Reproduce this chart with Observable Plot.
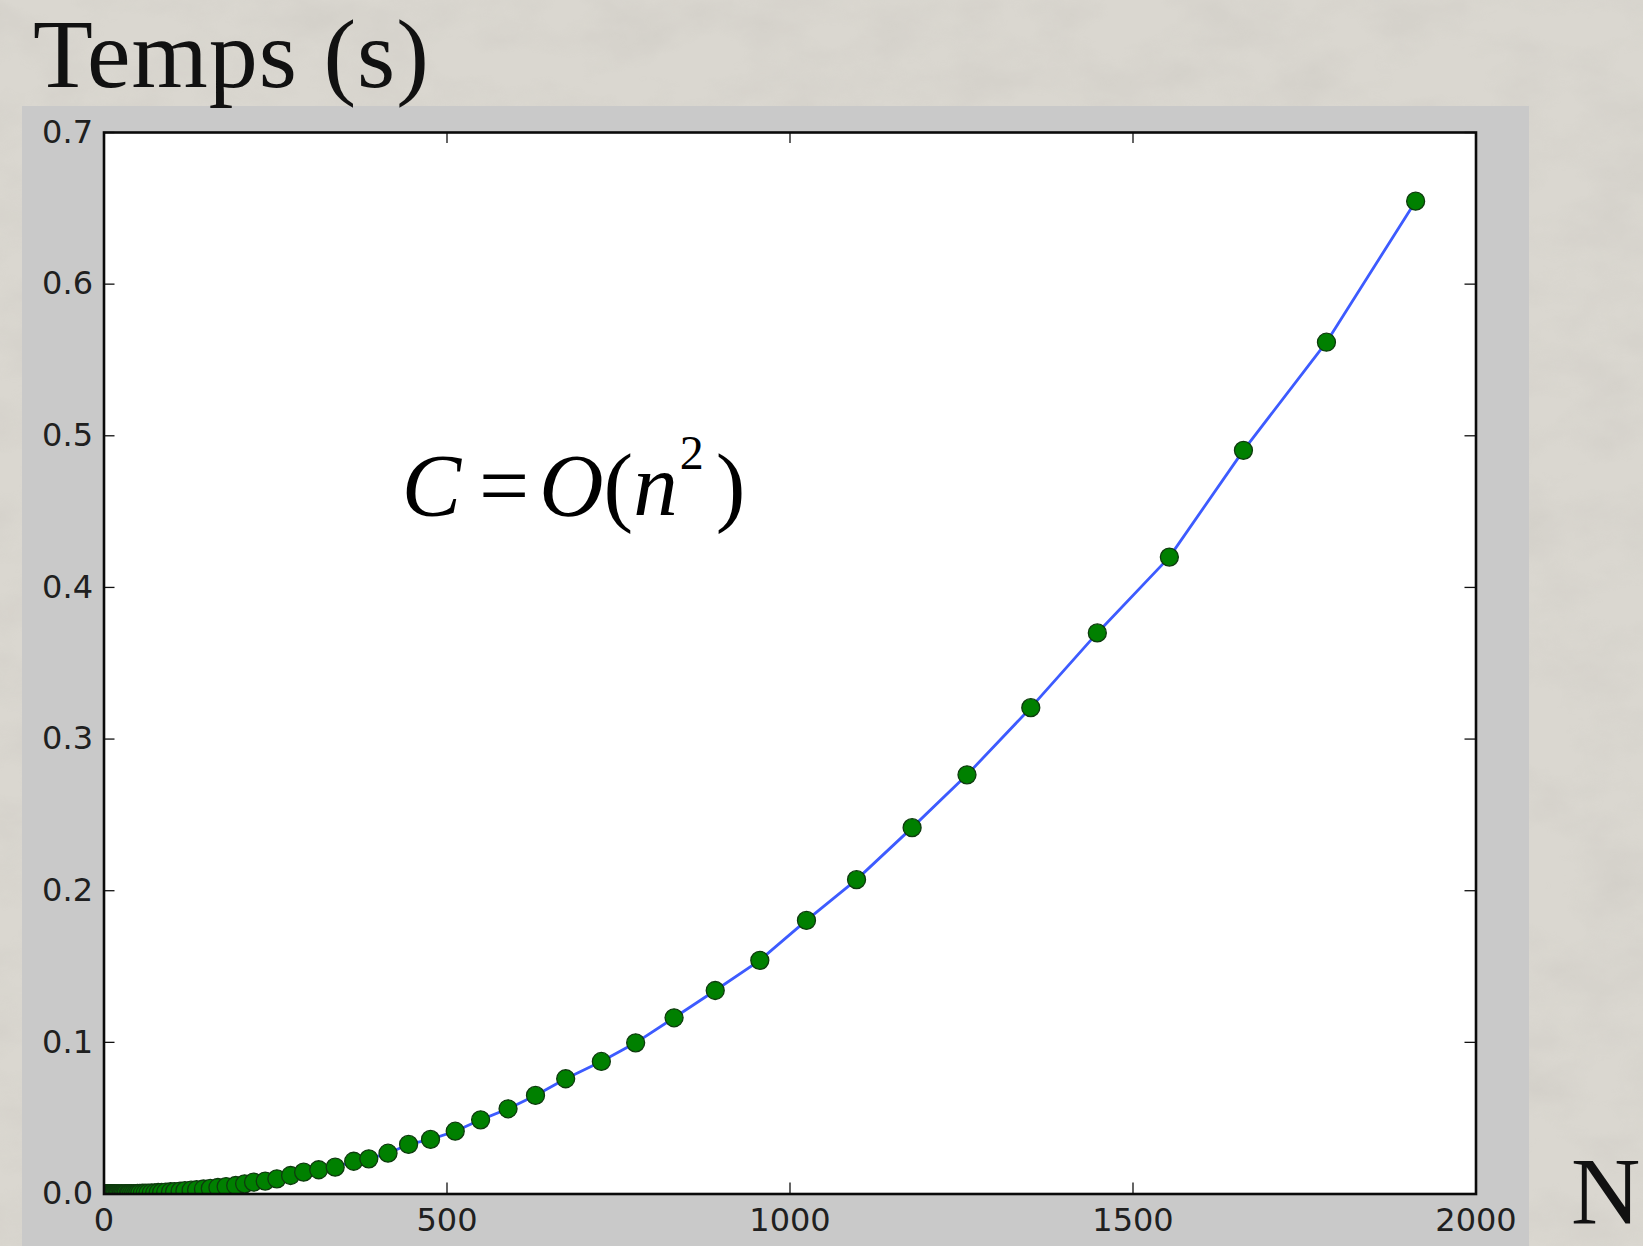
<!DOCTYPE html>
<html>
<head>
<meta charset="utf-8">
<script src="https://cdn.jsdelivr.net/npm/d3@7"></script>
<script src="https://cdn.jsdelivr.net/npm/@observablehq/plot@0.6"></script>
<style>
  html, body { margin: 0; padding: 0; }
  body {
    width: 1643px; height: 1246px; overflow: hidden; position: relative;
    background: #dad7d0;
    font-family: "Liberation Serif", "DejaVu Serif", serif;
  }
  #paper { position: absolute; left: 0; top: 0; }
  #title {
    position: absolute; left: 33px; top: 5px; z-index: 2;
    font-size: 98px; line-height: 98px; letter-spacing: 1px; color: #111; white-space: nowrap;
  }
  #panel {
    position: absolute; left: 22px; top: 106px; width: 1507px; height: 1140px;
    background: #c9c9c9; z-index: 1;
  }
  #nlabel {
    position: absolute; left: 1571px; top: 1138px;
    font-size: 96px; line-height: 107px; color: #111; white-space: nowrap;
  }
</style>
</head>
<body>
<svg id="paper" width="1643" height="1246">
  <filter id="grain" x="0" y="0" width="100%" height="100%">
    <feTurbulence type="fractalNoise" baseFrequency="0.012 0.02" numOctaves="5" seed="7" result="n"/>
    <feColorMatrix type="matrix" values="0 0 0 0 0.45  0 0 0 0 0.43  0 0 0 0 0.40  0 0 0 -0.9 0.55"/>
  </filter>
  <rect width="1643" height="1246" filter="url(#grain)" opacity="0.35"/>
</svg>
<div id="panel"></div>
<div id="title">Temps (s)</div>
<div id="nlabel">N</div>
<script>
// Problem sizes n and measured running times (seconds)
const sizes = [
  1, 2, 3, 4, 5, 6, 7, 8, 9, 10, 11, 12, 13, 14, 15, 16, 17, 19, 20, 21,
  23, 25, 26, 28, 30, 32, 35, 37, 40, 43, 46, 49, 52, 56, 60, 64, 69, 74, 79, 84,
  90, 97, 103, 111, 118, 127, 135, 145, 155, 166, 178, 192, 205, 218, 235, 252, 272, 291, 313, 337,
  364, 386, 414, 444, 476, 512, 549, 589, 629, 673, 725, 775, 831, 891, 956, 1024, 1097, 1178, 1258, 1351,
  1448, 1553, 1661, 1782, 1912
];
const times = [
  0.0000, 0.0000, 0.0000, 0.0000, 0.0000, 0.0000, 0.0000, 0.0000, 0.0000, 0.0000,
  0.0000, 0.0000, 0.0000, 0.0000, 0.0000, 0.0000, 0.0000, 0.0001, 0.0001, 0.0001,
  0.0001, 0.0001, 0.0001, 0.0001, 0.0001, 0.0002, 0.0002, 0.0002, 0.0002, 0.0003,
  0.0003, 0.0004, 0.0004, 0.0005, 0.0006, 0.0006, 0.0007, 0.0008, 0.0010, 0.0011,
  0.0013, 0.0015, 0.0016, 0.0019, 0.0022, 0.0025, 0.0028, 0.0033, 0.0037, 0.0043,
  0.0049, 0.0056, 0.0067, 0.0078, 0.0085, 0.0100, 0.0122, 0.0144, 0.0160, 0.0177,
  0.0216, 0.0232, 0.0269, 0.0327, 0.0360, 0.0414, 0.0489, 0.0562, 0.0650, 0.0760,
  0.0874, 0.0997, 0.1162, 0.1342, 0.1541, 0.1804, 0.2073, 0.2416, 0.2764, 0.3207,
  0.3700, 0.4200, 0.4904, 0.5617, 0.6547
];
const xTicks = [0, 500, 1000, 1500, 2000];
const yTicks = [0, 0.1, 0.2, 0.3, 0.4, 0.5, 0.6, 0.7];
const formula = "C = O(n2)";

const points = sizes.map((n, i) => ({n, t: times[i]}));

const W = 1507, H = 1140;
const mL = 81.5, mR = 53.5, mT = 26, mB = 52.5;
const innerW = W - mL - mR;
const innerH = H - mT - mB;
const tickLen = 11;

const chart = Plot.plot({
  width: W,
  height: H,
  marginLeft: mL,
  marginRight: mR,
  marginTop: mT,
  marginBottom: mB,
  x: {domain: [0, 2000]},
  y: {domain: [0, 0.7]},
  style: {background: "transparent", fontFamily: "DejaVu Sans", fontSize: "32px", color: "#202020", overflow: "visible"},
  marks: [
    Plot.frame({fill: "white"}),
    Plot.axisX({ticks: xTicks, tickSize: 0, tickPadding: 14, fontSize: 32, label: null, fill: "#202020", tickFormat: d3.format("d")}),
    Plot.axisY({ticks: yTicks, tickSize: 0, tickPadding: 11, fontSize: 32, label: null, fill: "#202020", tickFormat: d3.format(".1f")}),
    // inward ticks on all four sides
    Plot.tickX(xTicks, {x: d => d, insetTop: innerH - tickLen, stroke: "#111", strokeWidth: 1.3}),
    Plot.tickX(xTicks, {x: d => d, insetBottom: innerH - tickLen, stroke: "#111", strokeWidth: 1.3}),
    Plot.tickY(yTicks, {y: d => d, insetRight: innerW - tickLen, stroke: "#111", strokeWidth: 1.3}),
    Plot.tickY(yTicks, {y: d => d, insetLeft: innerW - tickLen, stroke: "#111", strokeWidth: 1.3}),
    Plot.line(points, {x: "n", y: "t", stroke: "#3d5bff", strokeWidth: 2.8, clip: true}),
    Plot.dot(points, {x: "n", y: "t", r: 9, fill: "#008000", stroke: "#0e3b0e", strokeWidth: 1.3, clip: true}),
    Plot.text([formula], {x: 434, y: 0.4476, text: d => d, textAnchor: "start", lineAnchor: "bottom",
      fontSize: 89, fontFamily: "Liberation Serif", fill: "#000"}),
    Plot.frame({stroke: "#0a0a0a", strokeWidth: 2.6})
  ]
});

// typeset the complexity formula with italic variables and a superscript
const ft = d3.select(chart).select('g[aria-label="text"] text');
ft.text(null);
ft.append("tspan").attr("font-style", "italic").text("C");
ft.append("tspan").attr("dx", "18px").text("=");
ft.append("tspan").attr("dx", "10px").attr("font-style", "italic").text("O");
ft.append("tspan").text("(");
ft.append("tspan").attr("font-style", "italic").text("n");
ft.append("tspan").attr("dy", "-46px").attr("dx", "2px").attr("font-size", "48px").text("2");
ft.append("tspan").attr("dy", "46px").attr("dx", "12px").text(")");

document.getElementById("panel").appendChild(chart);
</script>
</body>
</html>
